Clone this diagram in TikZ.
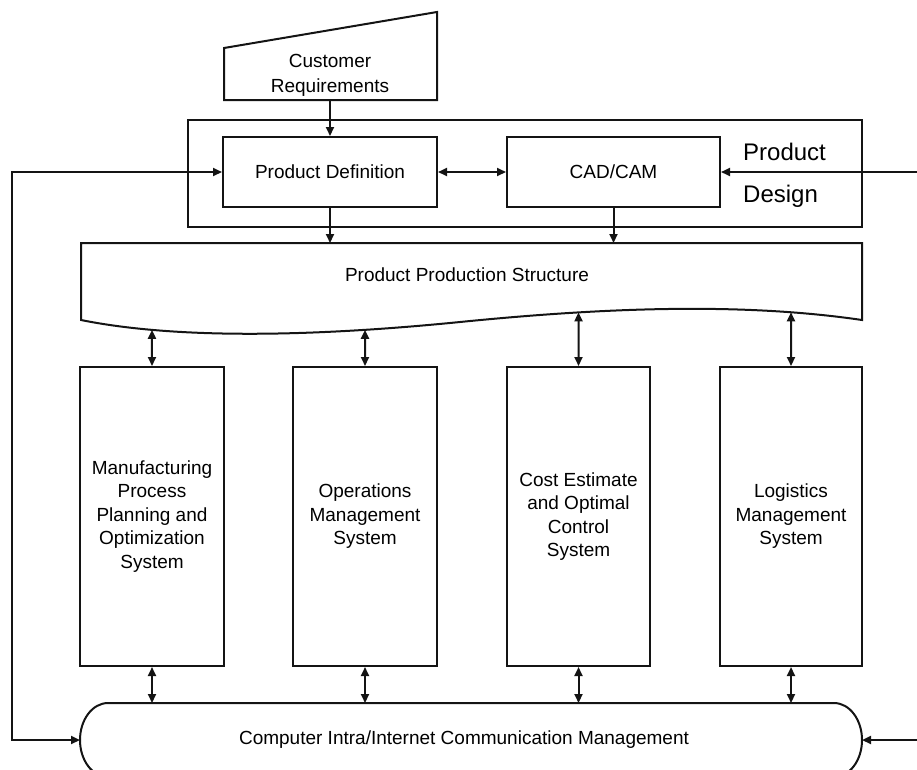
\documentclass[tikz,border=0pt]{standalone}
\usepackage{fontspec}
\setmainfont{Liberation Sans}
\usetikzlibrary{arrows.meta,intersections}
\begin{document}
\begin{tikzpicture}[x=1pt,y=-1pt,
  ln/.style={line width=2pt, draw=black!92},
  tip/.style={-{Triangle[length=9pt,width=8pt]}},
  both/.style={{Triangle[length=9pt,width=8pt]}-{Triangle[length=9pt,width=8pt]}},
  txt/.style={font=\fontsize{19}{23.5}\selectfont, align=center, inner sep=0pt},
  sysbox/.style={ln, txt, minimum width=144pt, minimum height=299pt},
  defbox/.style={ln, txt, minimum width=214pt, minimum height=70pt},
  big/.style={font=\fontsize{24}{28}\selectfont, inner sep=0pt, anchor=base west}]

\useasboundingbox (0,0) rectangle (917,769);
\clip (0,0) rectangle (917,769);

% customer input (manual input shape)
\draw[ln] (224,100) -- (224,48) -- (437,12) -- (437,100) -- cycle;
\node[txt, font=\fontsize{19}{25}\selectfont] (cust) at (330,75) {Customer\\Requirements};
\coordinate (custB) at (330,100);

% product design group
\draw[ln] (188,120) rectangle (862,227);
\node[defbox] (pd) at (330,172) {Product Definition};
\node[defbox, minimum width=213pt] (cad) at (613.5,172) {CAD/CAM};
\node[big] (lab1) at (743,160) {Product};
\node[big] (lab2) at (743,202) {Design};

% product production structure (document shape)
\draw[ln, name path=doc] (81,243) -- (862,243) -- (862,320)
  .. controls (740,302) and (600,308) .. (460,322)
  .. controls (300,338) and (170,338) .. (81,320) -- cycle;
\node[txt] (pps) at (467,275) {Product Production Structure};
\coordinate (docTop) at (467,243);

% subsystems
\node[sysbox] (s1) at (152,516.5) {Manufacturing\\Process\\Planning and\\Optimization\\System};
\node[sysbox] (s2) at (365,516.5) {Operations\\Management\\System};
\node[sysbox, minimum width=143pt] (s3) at (578.5,516.5) {Cost Estimate\\and Optimal\\Control\\System};
\node[sysbox, minimum width=142pt] (s4) at (791,516.5) {Logistics\\Management\\System};

% communication management (terminator shape)
\draw[ln] (108,703) -- (834,703)
  .. controls (849.5,703) and (862,719.6) .. (862,740)
  .. controls (862,760.4) and (849.5,777) .. (834,777) -- (108,777)
  .. controls (92.5,777) and (80,760.4) .. (80,740)
  .. controls (80,719.6) and (92.5,703) .. (108,703) -- cycle;
\node[txt] (net) at (464,740) {Computer Intra/Internet Communication Management};
\coordinate (netTop) at (464,703);
\coordinate (netW) at (80,740);
\coordinate (netE) at (862,740);

% connectors
\draw[ln, tip] (custB) -- (pd.north);
\draw[ln, both] (pd.east) -- (cad.west);
\draw[ln, tip] (pd.south) -- (pd.south |- docTop);
\draw[ln, tip] (cad.south) -- (cad.south |- docTop);

\foreach \i in {1,2,3,4} {
  \path[name path=v\i] (s\i.north) -- ++(0,-80);
  \path[name intersections={of=doc and v\i, by=w\i}];
  \draw[ln, both] (w\i) -- (s\i.north);
  \draw[ln, both] (s\i.south) -- (s\i.south |- netTop);
}

\coordinate (railL) at (12,460);
\draw[ln, both] (pd.west) -| (railL) |- (netW);
\coordinate (inR1) at (917,172);
\coordinate (inR2) at (917,740);
\draw[ln, tip] (inR1) -- (cad.east);
\draw[ln, tip] (inR2) -- (netE);
\end{tikzpicture}
\end{document}
